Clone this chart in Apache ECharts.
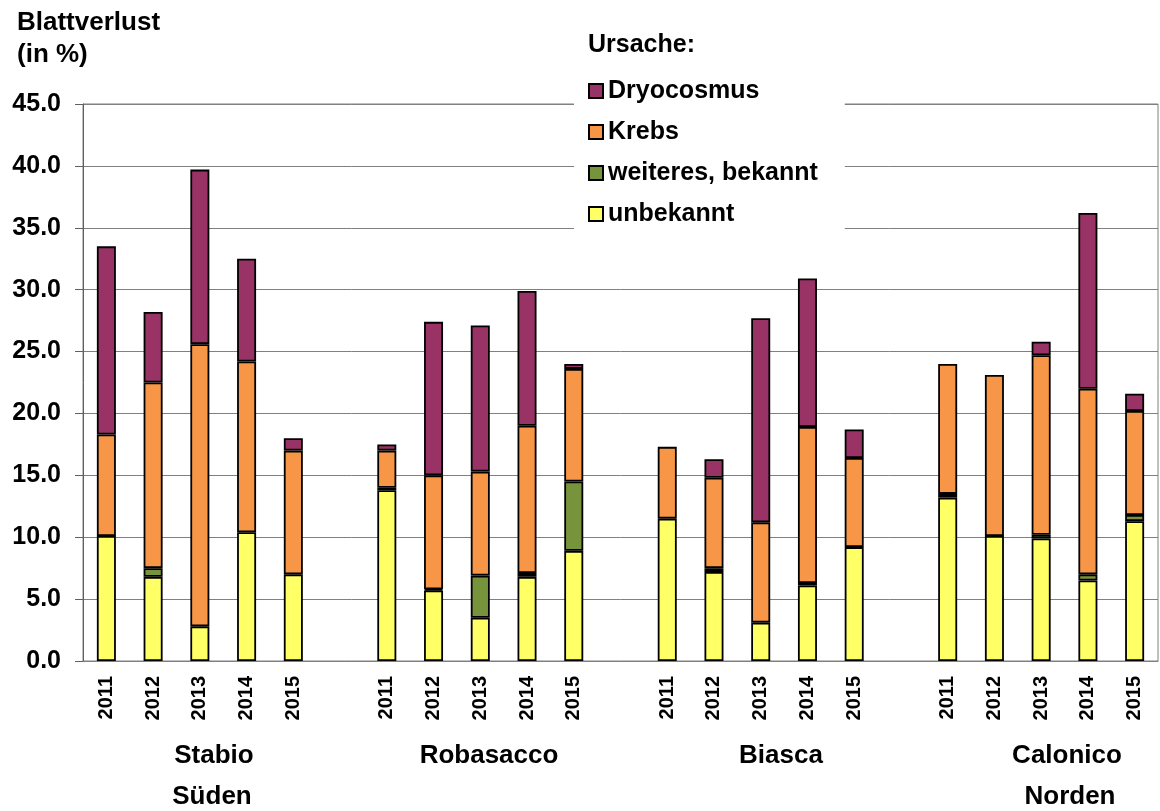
<!DOCTYPE html>
<html>
<head>
<meta charset="utf-8">
<script src="https://cdn.jsdelivr.net/npm/echarts@6/dist/echarts.min.js"></script>
<style>
html,body{margin:0;padding:0;background:#fff;}
#chart{width:1160px;height:811px;}
</style>
</head>
<body>
<div id="chart"></div>
<script>
// categories: 4 sites x 5 years, empty slot between sites
const categories = ['2011','2012','2013','2014','2015','',
                    '2011','2012','2013','2014','2015','',
                    '2011','2012','2013','2014','2015','',
                    '2011','2012','2013','2014','2015'];
const seriesNames = ['Dryocosmus','Krebs','weiteres, bekannt','unbekannt'];
const yTicks = [0,5,10,15,20,25,30,35,40,45];

// values per cause (null = empty gap slot)
const unbekannt = [10.1, 6.8, 2.8, 10.4, 7.0, null,
                   13.8, 5.7, 3.5, 6.8, 8.9, null,
                   11.5, 7.2, 3.1, 6.1, 9.2, null,
                   13.2, 10.1, 9.9, 6.5, 11.3];
const weiteres  = [0, 0.7, 0, 0, 0, null,
                   0.2, 0.1, 3.4, 0.3, 5.6, null,
                   0, 0.3, 0, 0.2, 0, null,
                   0.3, 0, 0.3, 0.5, 0.5];
const krebs     = [8.2, 15.0, 22.8, 13.8, 10.0, null,
                   3.0, 9.2, 8.4, 11.9, 9.1, null,
                   5.8, 7.3, 8.1, 12.6, 7.2, null,
                   10.5, 13.0, 14.5, 15.0, 8.4];
const dryocosmus= [15.2, 5.7, 14.1, 8.3, 1.0, null,
                   0.5, 12.4, 11.8, 10.9, 0.4, null,
                   0, 1.5, 16.5, 12.0, 2.3, null,
                   0, 0, 1.1, 14.2, 1.4];

const siteLabels = [
  {text:'Stabio', x:214, y:756},
  {text:'Süden', x:212, y:797},
  {text:'Robasacco', x:489, y:756},
  {text:'Biasca', x:781, y:756},
  {text:'Calonico', x:1067, y:756},
  {text:'Norden', x:1070, y:797}
];

const FONT = 'Arial, "Liberation Sans", sans-serif';
const colors = {
  'Dryocosmus':'#993366',
  'Krebs':'#F79646',
  'weiteres, bekannt':'#77933C',
  'unbekannt':'#FFFF66'
};

function barSeries(name, data){
  return {
    name: name,
    type: 'bar',
    stack: 'total',
    // zero-height segments are not drawn (avoids extra border lines)
    data: data.map(function(v){ return (v === null || v === 0) ? '-' : v; }),
    barWidth: 19,
    itemStyle: {color: colors[name], borderColor: '#000', borderWidth: 1.8},
    emphasis: {disabled: true},
    animation: false
  };
}

const chart = echarts.init(document.getElementById('chart'), null, {renderer:'canvas'});
const graphics = [
  {type:'text', left:17, top:10, style:{text:'Blattverlust', font:'bold 26px ' + FONT, fill:'#000'}},
  {type:'text', left:17, top:42, style:{text:'(in %)', font:'bold 26px ' + FONT, fill:'#000'}},
  {type:'text', left:588, top:33, style:{text:'Ursache:', font:'bold 25px ' + FONT, fill:'#000'}}
];
siteLabels.forEach(function(s){
  graphics.push({type:'text', x:s.x, y:s.y, style:{text:s.text, font:'bold 26px ' + FONT, fill:'#000', textAlign:'center', textVerticalAlign:'middle'}});
});

chart.setOption({
  animation: false,
  backgroundColor: '#fff',
  grid: {left:83, right:2, top:104, bottom:150, show:true, borderColor:'#808080', borderWidth:1, containLabel:false},
  legend: {
    data: seriesNames,
    orient: 'vertical',
    left: 574,
    top: 70,
    padding: [8, 27, 12, 14],
    backgroundColor: '#fff',
    icon: 'rect',
    itemWidth: 14,
    itemHeight: 14,
    itemGap: 15,
    itemStyle: {borderWidth: 2, borderColor: '#000'},
    textStyle: {fontFamily: FONT, fontWeight:'bold', fontSize:25, color:'#000', lineHeight:26},
    selectedMode: false,
    z: 10
  },
  xAxis: {
    type: 'category',
    data: categories,
    axisTick: {show:false},
    axisLine: {lineStyle:{color:'#808080', width:1}},
    axisLabel: {rotate:90, interval:0, margin:15, fontFamily:FONT, fontWeight:'bold', fontSize:20, color:'#000'}
  },
  yAxis: {
    type: 'value',
    min: 0, max: 45, interval: 5,
    axisLine: {show:true, lineStyle:{color:'#606060', width:1}},
    axisTick: {show:true, length:8, lineStyle:{color:'#606060'}},
    splitLine: {lineStyle:{color:'#808080', width:1}},
    axisLabel: {margin:22, fontFamily:FONT, fontWeight:'bold', fontSize:25, color:'#000',
      formatter: function(v){ return yTicks.indexOf(v) >= 0 ? v.toFixed(1) : ''; }}
  },
  series: [
    barSeries('unbekannt', unbekannt),
    barSeries('weiteres, bekannt', weiteres),
    barSeries('Krebs', krebs),
    barSeries('Dryocosmus', dryocosmus)
  ],
  graphic: graphics
});
</script>
</body>
</html>
